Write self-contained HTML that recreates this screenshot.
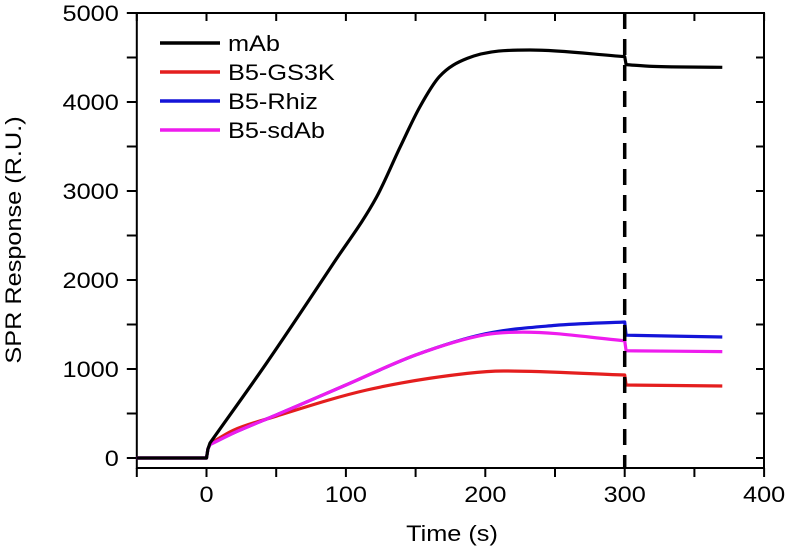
<!DOCTYPE html>
<html><head><meta charset="utf-8"><style>
html,body{margin:0;padding:0;background:#fff;}
svg{display:block;font-family:"Liberation Sans",Arial,sans-serif;}
</style></head><body>
<svg id="chart" width="787" height="548" viewBox="0 0 787 548">
<g id="axes"></g>
<g id="series"></g>
<g id="legend"></g>
</svg>
<script>
const xTicks = [-50,0,50,100,150,200,250,300,350,400];
const xLabels = ["0","100","200","300","400"];
const yTicks = [0,500,1000,1500,2000,2500,3000,3500,4000,4500,5000];
const yLabels = ["0","1000","2000","3000","4000","5000"];
const seriesNames = ["mAb","B5-GS3K","B5-Rhiz","B5-sdAb"];
const seriesColors = ["#000000","#e41e1e","#1414d8","#ee1cee"];
const mAbT = [-50,0,1,2.5,43,91,122,139,153,167,187,232,300,301,320,370];
const mAbV = [0,0,100,169,1064,2187,2933,3498,3944,4284,4490,4584,4510,4420,4400,4390];
const gsT = [-50,0,1,2.5,19,50,115,187,213,300,301,370];
const gsV = [0,0,100,160,310,470,764,951,977,933,820,809];
const rhT = [-50,0,1,2.5,20,50,100,150,200,250,300,301,370];
const rhV = [0,0,100,150,285,483,820,1157,1395,1490,1528,1380,1360];
const sdT = [-50,0,1,2.5,20,50,100,150,200,227,300,301,370];
const sdV = [0,0,100,150,285,483,820,1157,1385,1415,1318,1205,1195];
const dropT = 300;

const X0=136.8, X1=764, Y0=468, Y1=13;
const xs = t => 206.5 + t*1.394;
const ys = v => 458 - v*0.089;
const NS="http://www.w3.org/2000/svg";
function mk(tag, attrs, parent){const e=document.createElementNS(NS,tag);for(const k in attrs)e.setAttribute(k,attrs[k]);parent.appendChild(e);return e;}
function txt(parent,x,y,s,anchor,rot){
  const tr='translate('+x+','+y+')'+(rot?' rotate(-90)':'')+' scale(1.15,1)';
  const t=mk('text',{x:0,y:0,'text-anchor':anchor,'font-size':22,transform:tr},parent);
  t.textContent=s;return t;
}
// monotone cubic on one run of points (no move)
function monoRun(x,y){
  const n=x.length; if(n<2) return '';
  const d=[],m=new Array(n);
  for(let i=0;i<n-1;i++) d.push((y[i+1]-y[i])/(x[i+1]-x[i]));
  m[0]=d[0]; m[n-1]=d[n-2];
  for(let i=1;i<n-1;i++){ m[i]=(d[i-1]*d[i]<=0)?0:(d[i-1]+d[i])/2; }
  for(let i=0;i<n-1;i++){
    if(d[i]===0){m[i]=0;m[i+1]=0;continue;}
    const a=m[i]/d[i], b=m[i+1]/d[i], s=a*a+b*b;
    if(s>9){const tau=3/Math.sqrt(s);m[i]=tau*a*d[i];m[i+1]=tau*b*d[i];}
  }
  let p='';
  for(let i=0;i<n-1;i++){
    const h=(x[i+1]-x[i])/3;
    p+=' C'+(x[i]+h).toFixed(1)+','+(y[i]+m[i]*h).toFixed(1)+' '+(x[i+1]-h).toFixed(1)+','+(y[i+1]-m[i+1]*h).toFixed(1)+' '+x[i+1].toFixed(1)+','+y[i+1].toFixed(1);
  }
  return p;
}
// sharp jumps (dt<=2) are straight; smooth runs between
function seriesPath(T,V){
  const x=T.map(xs), y=V.map(ys);
  let p='M'+x[0].toFixed(1)+','+y[0].toFixed(1);
  let run=[0];
  for(let i=0;i<T.length-1;i++){
    if(T[i+1]-T[i]<=2){
      p+=monoRun(run.map(k=>x[k]),run.map(k=>y[k]));
      p+=' L'+x[i+1].toFixed(1)+','+y[i+1].toFixed(1);
      run=[i+1];
    } else run.push(i+1);
  }
  p+=monoRun(run.map(k=>x[k]),run.map(k=>y[k]));
  return p;
}
const axes=document.getElementById('axes');
let e=mk('rect',{x:X0,y:Y1,width:X1-X0,height:Y0-Y1,fill:'none',stroke:'#000','stroke-width':2},axes);


xTicks.forEach(t=>{
  const x=xs(t);
  let a=mk('line',{x1:x,x2:x,y1:Y0,y2:Y0+9,stroke:'#000','stroke-width':2},axes);
  
  
  let b=mk('line',{x1:x,x2:x,y1:Y1,y2:Y1+8,stroke:'#000','stroke-width':2},axes);
  
  
});
xLabels.forEach(l=>{
  let t=txt(axes,xs(+l),502,l,'middle');
  
  
});
yTicks.forEach(v=>{
  const y=ys(v);
  let a=mk('line',{x1:X0-10,x2:X0,y1:y,y2:y,stroke:'#000','stroke-width':2},axes);
  
  
  let b=mk('line',{x1:X1-8,x2:X1,y1:y,y2:y,stroke:'#000','stroke-width':2},axes);
  
  
});
yLabels.forEach(l=>{
  let t=txt(axes,X0-18,ys(+l)+8,l,'end');
  
  
});
let xt=txt(axes,452,541,'Time (s)','middle');


let yt=txt(axes,21,240,'SPR Response (R.U.)','middle',true);



const sg=document.getElementById('series');
const data=[[mAbT,mAbV],[gsT,gsV],[rhT,rhV],[sdT,sdV]];
const order=[1,2,3,0];
order.forEach(i=>{
  const [T,V]=data[i];
  let p=mk('path',{d:seriesPath(T,V),fill:'none',stroke:seriesColors[i],'stroke-width':3.2,'stroke-linejoin':'round'},sg);
  
  
});
let dl=mk('line',{x1:xs(dropT),x2:xs(dropT),y1:Y1,y2:Y0,stroke:'#000','stroke-width':3.5,'stroke-dasharray':'16,10'},sg);



const lg=document.getElementById('legend');
seriesNames.forEach((n,i)=>{
  const y=43+i*29;
  let l=mk('line',{x1:160,x2:220,y1:y,y2:y,stroke:seriesColors[i],'stroke-width':3.5},lg);
  
  
  let t=txt(lg,228,y+8,n,'start');
  
  
});
</script>
</body></html>
